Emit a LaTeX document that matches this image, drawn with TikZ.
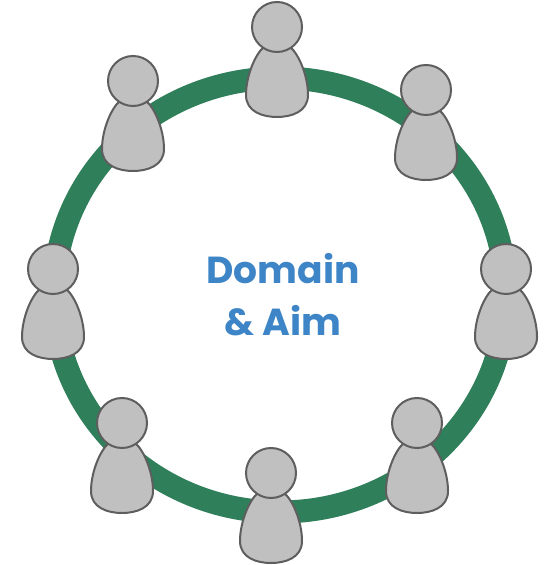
\documentclass[tikz,border=0pt]{standalone}
\usepackage{fontspec}
\setmainfont{Poppins}
\definecolor{ringgreen}{HTML}{2F7F5B}
\definecolor{aimblue}{HTML}{3D85C6}
\definecolor{bodygray}{HTML}{C0C0C0}
\definecolor{edgegray}{HTML}{5E5E5E}
\tikzset{
    person/.style = {fill = bodygray, draw = edgegray, line width = 0.02cm},
    pics/member/.style = {code = {
        \draw[person] (-13,20) .. controls (-21,26) and (-31,48) .. (-31,68)
              .. controls (-31,85) and (-14,90) .. (0,90)
              .. controls (14,90) and (31,85) .. (31,68)
              .. controls (31,48) and (21,26) .. (13,20)
              -- cycle;
        \draw[person] (0,0) circle [radius = 25];
    }}
}
\begin{document}
\begin{tikzpicture}[
    x = 0.01cm, y = -0.01cm,
    every node/.style = {font = \fontsize{10.7}{14.8}\selectfont\bfseries, text = aimblue}]

\useasboundingbox (0,0) rectangle (546,565);

\draw[ringgreen, line width = 0.23cm] (280,295) ellipse [x radius = 226, y radius = 217];

\foreach \px/\py in {277/27, 133/81, 426/90, 53/269, 506/269, 122/423, 417/423, 271/473}
	\pic at (\px,\py) {member};

\path (283,295) node[align = center](title) {Domain\\\& Aim};
\end{tikzpicture}
\end{document}
